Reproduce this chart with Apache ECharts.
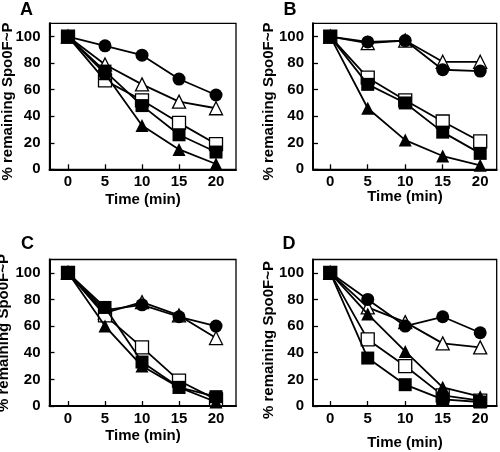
<!DOCTYPE html>
<html>
<head>
<meta charset="utf-8">
<script src="https://cdn.jsdelivr.net/npm/echarts@6/dist/echarts.min.js"></script>
<style>
html,body{margin:0;padding:0;background:#fff;}
#main{width:500px;height:452px;}
</style>
</head>
<body>
<div id="main"></div>
<script>
// ---- data ----
var times = [0, 5, 10, 15, 20];
var xTicks = [0, 5, 10, 15, 20];
var yTicks = [0, 20, 40, 60, 80, 100];
var panelLabels = ['A', 'B', 'C', 'D'];
var yTitle = '% remaining Spo0F~P';
var xTitle = 'Time (min)';

// Panel A
var aCircle   = [100, 93, 86, 68, 56];
var aOpenTri  = [100, 79, 64, 51, 46];
var aOpenSq   = [100, 67, 52, 35, 19];
var aFillTri  = [100, 72, 33, 15, 4];
var aFillSq   = [100, 74, 48, 26, 13];
// Panel B
var bCircle   = [100, 96, 97, 75, 74];
var bOpenTri  = [100, 95, 97, 81, 81];
var bOpenSq   = [100, 69, 52, 36, 21];
var bFillTri  = [100, 46, 22, 10, 3];
var bFillSq   = [100, 64, 50, 28, 12];
// Panel C
var cCircle   = [100, 72, 76, 67, 60];
var cOpenTri  = [100, 70, 78, 68, 51];
var cOpenSq   = [100, 68, 44, 19, 5];
var cFillTri  = [100, 60, 30, 14, 3];
var cFillSq   = [100, 74, 33, 14, 7];
// Panel D
var dCircle   = [100, 80, 60, 67, 55];
var dOpenTri  = [100, 74, 63, 47, 44];
var dOpenSq   = [100, 50, 30, 8, 4];
var dFillTri  = [100, 69, 41, 14, 7];
var dFillSq   = [100, 36, 16, 5, 3];

var panels = [
  [aOpenTri, aCircle, aOpenSq, aFillTri, aFillSq],
  [bOpenTri, bCircle, bOpenSq, bFillTri, bFillSq],
  [cOpenTri, cCircle, cOpenSq, cFillTri, cFillSq],
  [dOpenTri, dCircle, dOpenSq, dFillTri, dFillSq]
];
// symbol styles per series order: open triangle, circle, open square, filled triangle, filled square
var styles = [
  {symbol: 'triangle', fill: '#fff', size: 13},
  {symbol: 'circle', fill: '#000', size: 13},
  {symbol: 'rect', fill: '#fff', size: 13},
  {symbol: 'triangle', fill: '#000', size: 13},
  {symbol: 'rect', fill: '#000', size: 13}
];

// ---- layout ----
var grids = [
  {left: 49.5, top: 23.3, width: 186.5, height: 146},
  {left: 313, top: 23.3, width: 183.7, height: 146},
  {left: 49.5, top: 259.5, width: 186.5, height: 146.5},
  {left: 313, top: 259.5, width: 183.7, height: 146.5}
];
var xRanges = [[-2.5, 22.7], [-2.3, 22.2], [-2.5, 22.7], [-2.3, 22.2]];
var FONT = '"Liberation Sans", Arial, sans-serif';

var option = {
  backgroundColor: '#fff',
  animation: false,
  grid: [], xAxis: [], yAxis: [], series: [], graphic: []
};

grids.forEach(function (g, i) {
  option.grid.push({left: g.left, top: g.top, width: g.width, height: g.height,
    show: true, borderColor: '#000', borderWidth: 1.3, backgroundColor: 'transparent'});
  option.xAxis.push({
    type: 'value', gridIndex: i, min: xRanges[i][0], max: xRanges[i][1],
    axisLine: {show: true, onZero: false, lineStyle: {color: '#000', width: 2}},
    axisTick: {show: true, inside: true, length: 5, lineStyle: {color: '#000', width: 1.3}, customValues: xTicks},
    axisLabel: {show: true, customValues: xTicks, margin: 5, color: '#000',
      fontFamily: FONT, fontWeight: 'bold', fontSize: 15},
    splitLine: {show: false}
  });
  option.yAxis.push({
    type: 'value', gridIndex: i, min: 0, max: 110,
    axisLine: {show: true, onZero: false, lineStyle: {color: '#000', width: 2}},
    axisTick: {show: true, inside: true, length: 5, lineStyle: {color: '#000', width: 1.3}, customValues: yTicks},
    axisLabel: {show: true, customValues: yTicks, margin: 9, color: '#000',
      fontFamily: FONT, fontWeight: 'bold', fontSize: 15},
    splitLine: {show: false}
  });
  panels[i].forEach(function (vals, k) {
    var st = styles[k];
    option.series.push({
      type: 'line', xAxisIndex: i, yAxisIndex: i,
      data: times.map(function (t, j) { return [t, vals[j]]; }),
      symbol: st.symbol, symbolSize: st.size, showAllSymbol: true,
      lineStyle: {color: '#000', width: 1.8},
      itemStyle: {color: st.fill, borderColor: '#000', borderWidth: st.fill === '#fff' ? 1.3 : 0},
      z: 2 + k, clip: false
    });
  });
});

var titlePos = [[26.5, 10], [290, 10], [27.5, 244], [289, 244]];
var yTitlePos = [[8.3, 101.5], [269, 101.5], [4, 333], [269, 340]];
var xTitlePos = [[143, 200], [405, 197], [143, 436], [405, 443]];
for (var i = 0; i < 4; i++) {
  option.graphic.push({type: 'text', x: titlePos[i][0], y: titlePos[i][1],
    style: {text: panelLabels[i], font: 'bold 18px ' + FONT, fill: '#000', align: 'center', verticalAlign: 'middle'}});
  option.graphic.push({type: 'text', x: yTitlePos[i][0], y: yTitlePos[i][1], rotation: Math.PI / 2,
    style: {text: yTitle, font: 'bold 15px ' + FONT, fill: '#000', align: 'center', verticalAlign: 'middle'}});
  option.graphic.push({type: 'text', x: xTitlePos[i][0], y: xTitlePos[i][1],
    style: {text: xTitle, font: 'bold 15px ' + FONT, fill: '#000', align: 'center', verticalAlign: 'middle'}});
}

var chart = echarts.init(document.getElementById('main'), null, {renderer: 'canvas'});
chart.setOption(option);
</script>
</body>
</html>
